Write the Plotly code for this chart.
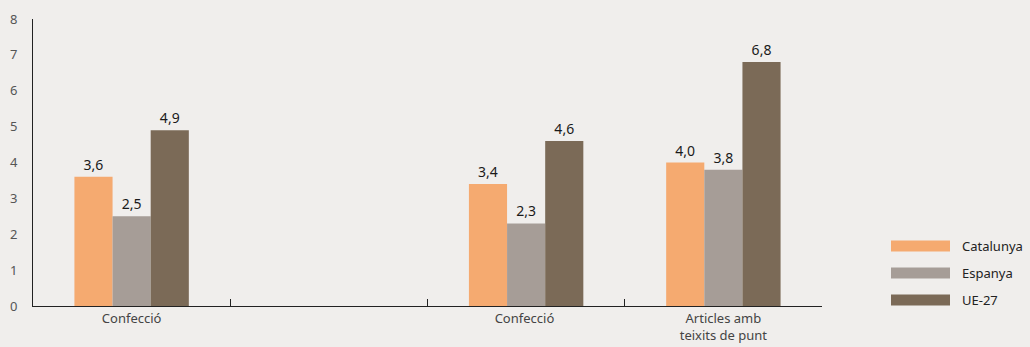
import plotly.graph_objects as go

categories = ["Confecció", " ", "Confecció ", "Articles amb<br>teixits de punt"]
series_names = ["Catalunya", "Espanya", "UE-27"]
catalunya = [3.6, None, 3.4, 4.0]
espanya = [2.5, None, 2.3, 3.8]
ue27 = [4.9, None, 4.6, 6.8]
colors = ["#F5AA70", "#A69D97", "#7B6A57"]
y_ticks = [0, 1, 2, 3, 4, 5, 6, 7, 8]

BG = "#F0EEEC"
W, H = 1030, 347
ML, MR, MT, MB = 33, 208, 19, 41

fig = go.Figure()
for name, vals, col in zip(series_names, [catalunya, espanya, ue27], colors):
    fig.add_trace(go.Bar(
        x=categories, y=vals, name=name, marker=dict(color=col, line=dict(width=0)),
        texttemplate="%{y:.1f}", textposition="outside", cliponaxis=False,
        textfont=dict(family="Noto Sans", size=14, color="#1a1a1a"),
        showlegend=False,
    ))

# custom legend with wide swatches
pw = W - ML - MR
ph = H - MT - MB
leg_y = [246, 273, 300]
shapes = []
annotations = []
for name, col, py in zip(series_names, colors, leg_y):
    shapes.append(dict(type="rect", xref="paper", yref="paper",
                       x0=(891 - ML) / pw, x1=(950 - ML) / pw,
                       y0=(H - MB - (py + 5.5)) / ph, y1=(H - MB - (py - 5.5)) / ph,
                       fillcolor=col, line=dict(width=0)))
    annotations.append(dict(xref="paper", yref="paper", x=(960 - ML) / pw,
                            y=(H - MB - py) / ph, text=name, showarrow=False,
                            xanchor="left", yanchor="middle",
                            font=dict(family="Noto Sans", size=13, color="#222")))

fig.update_layout(
    width=W, height=H, barmode="group", bargap=0.42, bargroupgap=0,
    paper_bgcolor=BG, plot_bgcolor=BG, separators=",.",
    margin=dict(l=ML, r=MR, t=MT, b=MB, autoexpand=False),
    shapes=shapes, annotations=annotations,
    xaxis=dict(type="category", categoryorder="array", categoryarray=categories,
               showline=True, linecolor="#222", linewidth=1, automargin=False,
               ticks="inside", ticklen=7, tickcolor="#222", tickwidth=1,
               tickson="boundaries", showgrid=False, zeroline=False,
               tickfont=dict(family="Noto Sans", size=13, color="#444")),
    yaxis=dict(range=[0, 8], tickvals=y_ticks, showline=True, linecolor="#222",
               linewidth=1, ticks="", showgrid=False, zeroline=False,
               automargin=False, ticklabelstandoff=12,
               tickfont=dict(family="Noto Sans", size=13, color="#555")),
)

fig.write_html("out.html", config={"displayModeBar": False},
               post_script="document.body.style.margin='0';document.body.style.background='%s';" % BG)
